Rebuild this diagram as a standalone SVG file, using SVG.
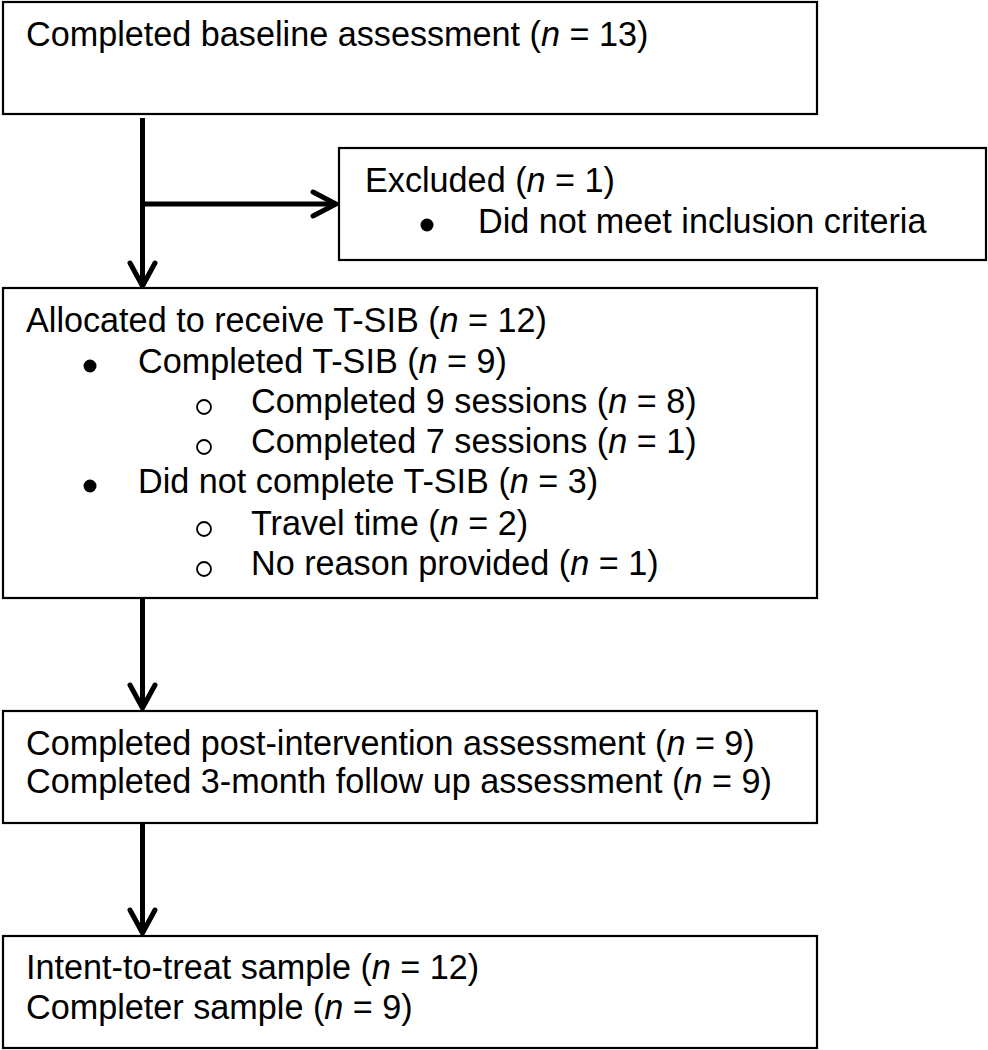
<svg xmlns="http://www.w3.org/2000/svg" width="988" height="1050" viewBox="0 0 988 1050">
<defs>
<style>
.box{fill:#fff;stroke:#000;stroke-width:2.2}
.t{font-family:"Liberation Sans",Arial,sans-serif;font-size:34.2px;fill:#000}
.b{fill:#000}
.c{fill:none;stroke:#000;stroke-width:1.8}
.ln{fill:none;stroke:#000;stroke-width:5}
.ah{fill:none;stroke:#000;stroke-width:5;stroke-linecap:round;stroke-linejoin:miter}
</style>
</defs>
<rect width="988" height="1050" fill="#fff"/>
<g id="connectors">
<path class="ln" d="M142.5 118 V286"/>
<path class="ah" d="M130 263 L142.5 286 L155 263"/>
<path class="ln" d="M142.5 204 H336"/>
<path class="ah" d="M313 192 L336 204 L313 216"/>
<path class="ln" d="M142.5 597 V708"/>
<path class="ah" d="M130 685 L142.5 708 L155 685"/>
<path class="ln" d="M142.5 823 V933"/>
<path class="ah" d="M130 910 L142.5 933 L155 910"/>
</g>
<g id="baseline">
<rect class="box" x="3" y="2" width="814" height="112"/>
<text class="t" x="26" y="46">Completed baseline assessment (<tspan font-style="italic">n</tspan> = 13)</text>
</g>
<g id="excluded">
<rect class="box" x="339" y="148" width="647" height="112"/>
<text class="t" x="365" y="192">Excluded (<tspan font-style="italic">n</tspan> = 1)</text>
<circle class="b" cx="427" cy="225" r="6.5"/>
<text class="t" x="478" y="233">Did not meet inclusion criteria</text>
</g>
<g id="allocated">
<rect class="box" x="3" y="288" width="814" height="310"/>
<text class="t" x="26" y="332">Allocated to receive T-SIB (<tspan font-style="italic">n</tspan> = 12)</text>
<circle class="b" cx="90" cy="366" r="6.5"/>
<text class="t" x="138" y="373">Completed T-SIB (<tspan font-style="italic">n</tspan> = 9)</text>
<circle class="c" cx="204" cy="407" r="7"/>
<text class="t" x="251" y="413">Completed 9 sessions (<tspan font-style="italic">n</tspan> = 8)</text>
<circle class="c" cx="204" cy="447" r="7"/>
<text class="t" x="251" y="453">Completed 7 sessions (<tspan font-style="italic">n</tspan> = 1)</text>
<circle class="b" cx="90" cy="486" r="6.5"/>
<text class="t" x="138" y="493">Did not complete T-SIB (<tspan font-style="italic">n</tspan> = 3)</text>
<circle class="c" cx="204" cy="529" r="7"/>
<text class="t" x="251" y="535">Travel time (<tspan font-style="italic">n</tspan> = 2)</text>
<circle class="c" cx="204" cy="569" r="7"/>
<text class="t" x="251" y="575">No reason provided (<tspan font-style="italic">n</tspan> = 1)</text>
</g>
<g id="post">
<rect class="box" x="3" y="711" width="814" height="112"/>
<text class="t" x="26" y="755">Completed post-intervention assessment (<tspan font-style="italic">n</tspan> = 9)</text>
<text class="t" x="26" y="793">Completed 3-month follow up assessment (<tspan font-style="italic">n</tspan> = 9)</text>
</g>
<g id="sample">
<rect class="box" x="3" y="936" width="814" height="112"/>
<text class="t" x="26" y="979">Intent-to-treat sample (<tspan font-style="italic">n</tspan> = 12)</text>
<text class="t" x="26" y="1019">Completer sample (<tspan font-style="italic">n</tspan> = 9)</text>
</g>
</svg>
